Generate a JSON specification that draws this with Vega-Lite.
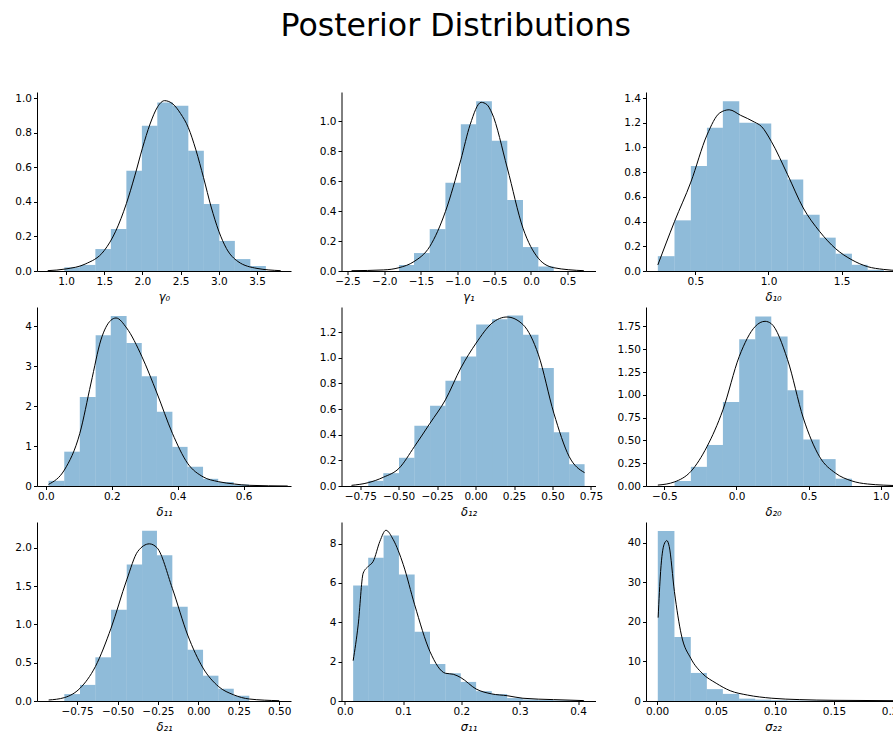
{
"$schema": "https://vega.github.io/schema/vega-lite/v6.json",
"title": {"text": "Posterior Distributions", "fontSize": 31.6, "font": "DejaVu Sans", "fontWeight": "normal", "color": "#000", "anchor": "middle", "offset": 49, "dx": -4},
"padding": {"left": 14, "top": 11, "right": 0, "bottom": 0},
"columns": 3,
"spacing": {"row": 36, "column": 50.5},
"bounds": "flush",
"datasets": {
"hist": [
{"p":"g0","x0":0.978,"x1":1.181,"h":0.021},{"p":"g0","x0":1.181,"x1":1.384,"h":0.035},{"p":"g0","x0":1.384,"x1":1.587,"h":0.127},{"p":"g0","x0":1.587,"x1":1.790,"h":0.243},{"p":"g0","x0":1.790,"x1":1.993,"h":0.579},{"p":"g0","x0":1.993,"x1":2.195,"h":0.840},{"p":"g0","x0":2.195,"x1":2.398,"h":0.975},{"p":"g0","x0":2.398,"x1":2.601,"h":0.956},{"p":"g0","x0":2.601,"x1":2.804,"h":0.695},{"p":"g0","x0":2.804,"x1":3.007,"h":0.388},{"p":"g0","x0":3.007,"x1":3.210,"h":0.174},{"p":"g0","x0":3.210,"x1":3.413,"h":0.069},{"p":"g0","x0":3.413,"x1":3.616,"h":0.029},
{"p":"g1","x0":-1.799,"x1":-1.594,"h":0.04},{"p":"g1","x0":-1.594,"x1":-1.380,"h":0.12},{"p":"g1","x0":-1.380,"x1":-1.166,"h":0.28},{"p":"g1","x0":-1.166,"x1":-0.956,"h":0.59},{"p":"g1","x0":-0.956,"x1":-0.747,"h":0.98},{"p":"g1","x0":-0.747,"x1":-0.533,"h":1.135},{"p":"g1","x0":-0.533,"x1":-0.323,"h":0.87},{"p":"g1","x0":-0.323,"x1":-0.109,"h":0.475},{"p":"g1","x0":-0.109,"x1":0.1,"h":0.16},{"p":"g1","x0":0.1,"x1":0.31,"h":0.03},
{"p":"d10","x0":0.243,"x1":0.357,"h":0.12},{"p":"d10","x0":0.357,"x1":0.469,"h":0.41},{"p":"d10","x0":0.469,"x1":0.579,"h":0.85},{"p":"d10","x0":0.579,"x1":0.688,"h":1.16},{"p":"d10","x0":0.688,"x1":0.8,"h":1.375},{"p":"d10","x0":0.8,"x1":0.91,"h":1.2},{"p":"d10","x0":0.91,"x1":1.019,"h":1.195},{"p":"d10","x0":1.019,"x1":1.131,"h":0.9},{"p":"d10","x0":1.131,"x1":1.238,"h":0.74},{"p":"d10","x0":1.238,"x1":1.35,"h":0.455},{"p":"d10","x0":1.35,"x1":1.46,"h":0.27},{"p":"d10","x0":1.46,"x1":1.571,"h":0.14},{"p":"d10","x0":1.571,"x1":1.679,"h":0.05},{"p":"d10","x0":1.679,"x1":1.79,"h":0.01},
{"p":"d11","x0":0.008,"x1":0.0557,"h":0.13},{"p":"d11","x0":0.0557,"x1":0.103,"h":0.86},{"p":"d11","x0":0.103,"x1":0.151,"h":2.23},{"p":"d11","x0":0.151,"x1":0.197,"h":3.78},{"p":"d11","x0":0.197,"x1":0.245,"h":4.26},{"p":"d11","x0":0.245,"x1":0.291,"h":3.58},{"p":"d11","x0":0.291,"x1":0.337,"h":2.75},{"p":"d11","x0":0.337,"x1":0.384,"h":1.86},{"p":"d11","x0":0.384,"x1":0.430,"h":0.98},{"p":"d11","x0":0.430,"x1":0.477,"h":0.48},{"p":"d11","x0":0.477,"x1":0.523,"h":0.18},{"p":"d11","x0":0.523,"x1":0.570,"h":0.1},{"p":"d11","x0":0.570,"x1":0.617,"h":0.04},
{"p":"d12","x0":-0.698,"x1":-0.6,"h":0.04},{"p":"d12","x0":-0.6,"x1":-0.498,"h":0.1},{"p":"d12","x0":-0.498,"x1":-0.398,"h":0.22},{"p":"d12","x0":-0.398,"x1":-0.296,"h":0.47},{"p":"d12","x0":-0.296,"x1":-0.196,"h":0.625},{"p":"d12","x0":-0.196,"x1":-0.096,"h":0.82},{"p":"d12","x0":-0.096,"x1":0.004,"h":1.01},{"p":"d12","x0":0.004,"x1":0.107,"h":1.26},{"p":"d12","x0":0.107,"x1":0.207,"h":1.3},{"p":"d12","x0":0.207,"x1":0.309,"h":1.33},{"p":"d12","x0":0.309,"x1":0.409,"h":1.18},{"p":"d12","x0":0.409,"x1":0.509,"h":0.92},{"p":"d12","x0":0.509,"x1":0.609,"h":0.42},{"p":"d12","x0":0.609,"x1":0.709,"h":0.17},
{"p":"d20","x0":-0.429,"x1":-0.316,"h":0.055},{"p":"d20","x0":-0.316,"x1":-0.205,"h":0.21},{"p":"d20","x0":-0.205,"x1":-0.094,"h":0.45},{"p":"d20","x0":-0.094,"x1":0.019,"h":0.92},{"p":"d20","x0":0.019,"x1":0.13,"h":1.61},{"p":"d20","x0":0.13,"x1":0.241,"h":1.86},{"p":"d20","x0":0.241,"x1":0.354,"h":1.64},{"p":"d20","x0":0.354,"x1":0.463,"h":1.05},{"p":"d20","x0":0.463,"x1":0.576,"h":0.51},{"p":"d20","x0":0.576,"x1":0.687,"h":0.295},{"p":"d20","x0":0.687,"x1":0.8,"h":0.08},
{"p":"d21","x0":-0.829,"x1":-0.732,"h":0.09},{"p":"d21","x0":-0.732,"x1":-0.637,"h":0.21},{"p":"d21","x0":-0.637,"x1":-0.540,"h":0.57},{"p":"d21","x0":-0.540,"x1":-0.443,"h":1.19},{"p":"d21","x0":-0.443,"x1":-0.348,"h":1.78},{"p":"d21","x0":-0.348,"x1":-0.256,"h":2.22},{"p":"d21","x0":-0.256,"x1":-0.161,"h":1.9},{"p":"d21","x0":-0.161,"x1":-0.066,"h":1.23},{"p":"d21","x0":-0.066,"x1":0.029,"h":0.67},{"p":"d21","x0":0.029,"x1":0.124,"h":0.33},{"p":"d21","x0":0.124,"x1":0.219,"h":0.16},{"p":"d21","x0":0.219,"x1":0.315,"h":0.07},
{"p":"s11","x0":0.0143,"x1":0.0401,"h":5.87},{"p":"s11","x0":0.0401,"x1":0.0665,"h":7.28},{"p":"s11","x0":0.0665,"x1":0.0928,"h":8.41},{"p":"s11","x0":0.0928,"x1":0.1198,"h":6.43},{"p":"s11","x0":0.1198,"x1":0.1461,"h":3.52},{"p":"s11","x0":0.1461,"x1":0.1725,"h":1.88},{"p":"s11","x0":0.1725,"x1":0.1989,"h":1.41},{"p":"s11","x0":0.1989,"x1":0.2252,"h":0.97},{"p":"s11","x0":0.2252,"x1":0.2521,"h":0.5},{"p":"s11","x0":0.2521,"x1":0.2785,"h":0.35},{"p":"s11","x0":0.2785,"x1":0.3054,"h":0.15},{"p":"s11","x0":0.3054,"x1":0.3318,"h":0.08},{"p":"s11","x0":0.3318,"x1":0.3582,"h":0.05},{"p":"s11","x0":0.3582,"x1":0.3845,"h":0.03},{"p":"s11","x0":0.3845,"x1":0.4109,"h":0.02},
{"p":"s22","x0":0.0006,"x1":0.0147,"h":43.0},{"p":"s22","x0":0.0147,"x1":0.0286,"h":16.2},{"p":"s22","x0":0.0286,"x1":0.0422,"h":7.1},{"p":"s22","x0":0.0422,"x1":0.0558,"h":3.0},{"p":"s22","x0":0.0558,"x1":0.0696,"h":1.8},{"p":"s22","x0":0.0696,"x1":0.0832,"h":0.6},{"p":"s22","x0":0.0832,"x1":0.0968,"h":0.35},{"p":"s22","x0":0.0968,"x1":0.1106,"h":0.2},{"p":"s22","x0":0.1106,"x1":0.1242,"h":0.12},{"p":"s22","x0":0.1242,"x1":0.1378,"h":0.1},{"p":"s22","x0":0.1378,"x1":0.1513,"h":0.08},{"p":"s22","x0":0.1513,"x1":0.1652,"h":0.05},{"p":"s22","x0":0.1652,"x1":0.1788,"h":0.03},{"p":"s22","x0":0.1788,"x1":0.1923,"h":0.02}
],
"kde": [
{"p":"g0","x":0.76,"d":0.002},{"p":"g0","x":1.0,"d":0.012},{"p":"g0","x":1.25,"d":0.04},{"p":"g0","x":1.5,"d":0.118},{"p":"g0","x":1.65,"d":0.23},{"p":"g0","x":1.79,"d":0.39},{"p":"g0","x":1.9,"d":0.55},{"p":"g0","x":2.0,"d":0.71},{"p":"g0","x":2.1,"d":0.85},{"p":"g0","x":2.2,"d":0.95},{"p":"g0","x":2.29,"d":0.985},{"p":"g0","x":2.4,"d":0.965},{"p":"g0","x":2.5,"d":0.91},{"p":"g0","x":2.6,"d":0.83},{"p":"g0","x":2.7,"d":0.7},{"p":"g0","x":2.8,"d":0.54},{"p":"g0","x":2.9,"d":0.37},{"p":"g0","x":3.0,"d":0.23},{"p":"g0","x":3.1,"d":0.13},{"p":"g0","x":3.25,"d":0.055},{"p":"g0","x":3.5,"d":0.015},{"p":"g0","x":3.81,"d":0.002},
{"p":"g1","x":-2.445,"d":0.002},{"p":"g1","x":-2.013,"d":0.007},{"p":"g1","x":-1.799,"d":0.022},{"p":"g1","x":-1.594,"d":0.063},{"p":"g1","x":-1.38,"d":0.163},{"p":"g1","x":-1.166,"d":0.397},{"p":"g1","x":-0.956,"d":0.743},{"p":"g1","x":-0.829,"d":0.978},{"p":"g1","x":-0.679,"d":1.127},{"p":"g1","x":-0.601,"d":1.112},{"p":"g1","x":-0.533,"d":1.056},{"p":"g1","x":-0.323,"d":0.688},{"p":"g1","x":-0.109,"d":0.286},{"p":"g1","x":0.1,"d":0.085},{"p":"g1","x":0.31,"d":0.022},{"p":"g1","x":0.72,"d":0.002},
{"p":"d10","x":0.243,"d":0.049},{"p":"d10","x":0.357,"d":0.4},{"p":"d10","x":0.469,"d":0.72},{"p":"d10","x":0.579,"d":1.1},{"p":"d10","x":0.667,"d":1.28},{"p":"d10","x":0.731,"d":1.305},{"p":"d10","x":0.81,"d":1.26},{"p":"d10","x":0.905,"d":1.205},{"p":"d10","x":0.952,"d":1.17},{"p":"d10","x":1.019,"d":1.05},{"p":"d10","x":1.131,"d":0.78},{"p":"d10","x":1.238,"d":0.51},{"p":"d10","x":1.35,"d":0.32},{"p":"d10","x":1.46,"d":0.18},{"p":"d10","x":1.571,"d":0.09},{"p":"d10","x":1.679,"d":0.035},{"p":"d10","x":1.786,"d":0.013},{"p":"d10","x":1.893,"d":0.003},
{"p":"d11","x":0.008,"d":0.04},{"p":"d11","x":0.056,"d":0.4},{"p":"d11","x":0.103,"d":1.32},{"p":"d11","x":0.137,"d":2.58},{"p":"d11","x":0.167,"d":3.66},{"p":"d11","x":0.197,"d":4.15},{"p":"d11","x":0.213,"d":4.21},{"p":"d11","x":0.245,"d":3.96},{"p":"d11","x":0.291,"d":3.25},{"p":"d11","x":0.337,"d":2.33},{"p":"d11","x":0.384,"d":1.32},{"p":"d11","x":0.43,"d":0.57},{"p":"d11","x":0.477,"d":0.23},{"p":"d11","x":0.523,"d":0.11},{"p":"d11","x":0.572,"d":0.05},{"p":"d11","x":0.617,"d":0.017},{"p":"d11","x":0.734,"d":0.0},
{"p":"d12","x":-0.807,"d":0.005},{"p":"d12","x":-0.698,"d":0.026},{"p":"d12","x":-0.6,"d":0.068},{"p":"d12","x":-0.498,"d":0.138},{"p":"d12","x":-0.398,"d":0.307},{"p":"d12","x":-0.296,"d":0.49},{"p":"d12","x":-0.196,"d":0.672},{"p":"d12","x":-0.096,"d":0.92},{"p":"d12","x":0.004,"d":1.115},{"p":"d12","x":0.107,"d":1.27},{"p":"d12","x":0.204,"d":1.318},{"p":"d12","x":0.309,"d":1.258},{"p":"d12","x":0.409,"d":1.023},{"p":"d12","x":0.509,"d":0.568},{"p":"d12","x":0.609,"d":0.229},{"p":"d12","x":0.709,"d":0.104},
{"p":"d20","x":-0.545,"d":0.01},{"p":"d20","x":-0.429,"d":0.045},{"p":"d20","x":-0.316,"d":0.16},{"p":"d20","x":-0.205,"d":0.43},{"p":"d20","x":-0.094,"d":0.835},{"p":"d20","x":0.019,"d":1.42},{"p":"d20","x":0.13,"d":1.75},{"p":"d20","x":0.198,"d":1.806},{"p":"d20","x":0.241,"d":1.78},{"p":"d20","x":0.354,"d":1.385},{"p":"d20","x":0.463,"d":0.745},{"p":"d20","x":0.576,"d":0.32},{"p":"d20","x":0.687,"d":0.14},{"p":"d20","x":0.8,"d":0.055},{"p":"d20","x":0.908,"d":0.022},{"p":"d20","x":1.125,"d":0.004},
{"p":"d21","x":-0.926,"d":0.013},{"p":"d21","x":-0.829,"d":0.044},{"p":"d21","x":-0.732,"d":0.166},{"p":"d21","x":-0.637,"d":0.449},{"p":"d21","x":-0.54,"d":0.95},{"p":"d21","x":-0.443,"d":1.58},{"p":"d21","x":-0.375,"d":1.95},{"p":"d21","x":-0.303,"d":2.05},{"p":"d21","x":-0.256,"d":2.0},{"p":"d21","x":-0.161,"d":1.47},{"p":"d21","x":-0.066,"d":0.86},{"p":"d21","x":0.029,"d":0.43},{"p":"d21","x":0.124,"d":0.19},{"p":"d21","x":0.219,"d":0.08},{"p":"d21","x":0.315,"d":0.026},{"p":"d21","x":0.5,"d":0.004},
{"p":"s11","x":0.0143,"d":2.05},{"p":"s11","x":0.0229,"d":3.87},{"p":"s11","x":0.0315,"d":6.5},{"p":"s11","x":0.0401,"d":6.84},{"p":"s11","x":0.0487,"d":7.1},{"p":"s11","x":0.0602,"d":8.12},{"p":"s11","x":0.0705,"d":8.68},{"p":"s11","x":0.0831,"d":8.2},{"p":"s11","x":0.1003,"d":6.93},{"p":"s11","x":0.1198,"d":4.89},{"p":"s11","x":0.1461,"d":2.51},{"p":"s11","x":0.1725,"d":1.41},{"p":"s11","x":0.186,"d":1.36},{"p":"s11","x":0.1989,"d":1.19},{"p":"s11","x":0.2252,"d":0.61},{"p":"s11","x":0.2521,"d":0.36},{"p":"s11","x":0.2785,"d":0.27},{"p":"s11","x":0.3054,"d":0.14},{"p":"s11","x":0.358,"d":0.07},{"p":"s11","x":0.41,"d":0.02},
{"p":"s22","x":0.0009,"d":21.1},{"p":"s22","x":0.003,"d":32.8},{"p":"s22","x":0.0059,"d":39.6},{"p":"s22","x":0.0083,"d":40.6},{"p":"s22","x":0.0103,"d":39.1},{"p":"s22","x":0.0147,"d":27.7},{"p":"s22","x":0.0206,"d":16.7},{"p":"s22","x":0.0286,"d":10.8},{"p":"s22","x":0.0383,"d":7.0},{"p":"s22","x":0.0501,"d":4.5},{"p":"s22","x":0.062,"d":2.6},{"p":"s22","x":0.0767,"d":1.5},{"p":"s22","x":0.0973,"d":0.7},{"p":"s22","x":0.121,"d":0.35},{"p":"s22","x":0.15,"d":0.17},{"p":"s22","x":0.205,"d":0.08}
]
},
"concat": [
{"width":254,"height":179,"layer":[
{"data":{"name":"hist"},"transform":[{"filter":"datum.p==='g0'"}],"mark":{"type":"rect","color":"#1f77b4","opacity":0.5},"encoding":{"x":{"field":"x0","type":"quantitative","title":"γ₀","scale":{"domain":[0.62,3.945],"nice":false,"zero":false},"axis":{"values":[1,1.5,2,2.5,3,3.5],"format":".1f","labelOverlap":false}},"x2":{"field":"x1"},"y":{"field":"h","type":"quantitative","title":null,"scale":{"domain":[0,1.035],"nice":false},"axis":{"values":[0,0.2,0.4,0.6,0.8,1.0],"format":".1f","labelOverlap":false}},"y2":{"datum":0}}},
{"data":{"name":"kde"},"transform":[{"filter":"datum.p==='g0'"}],"mark":{"type":"line","color":"#000","strokeWidth":1,"interpolate":"monotone","clip":true},"encoding":{"x":{"field":"x","type":"quantitative","title":"γ₀","axis":{"values":[1,1.5,2,2.5,3,3.5],"format":".1f","labelOverlap":false}},"y":{"field":"d","type":"quantitative","title":null,"axis":{"values":[0,0.2,0.4,0.6,0.8,1.0],"format":".1f","labelOverlap":false}}}}
]},
{"width":254,"height":179,"layer":[
{"data":{"name":"hist"},"transform":[{"filter":"datum.p==='g1'"}],"mark":{"type":"rect","color":"#1f77b4","opacity":0.5},"encoding":{"x":{"field":"x0","type":"quantitative","title":"γ₁","scale":{"domain":[-2.582,0.879],"nice":false,"zero":false},"axis":{"values":[-2.5,-2,-1.5,-1,-0.5,0,0.5],"format":".1f","labelOverlap":false}},"x2":{"field":"x1"},"y":{"field":"h","type":"quantitative","title":null,"scale":{"domain":[0,1.196],"nice":false},"axis":{"values":[0,0.2,0.4,0.6,0.8,1.0],"format":".1f","labelOverlap":false}},"y2":{"datum":0}}},
{"data":{"name":"kde"},"transform":[{"filter":"datum.p==='g1'"}],"mark":{"type":"line","color":"#000","strokeWidth":1,"interpolate":"monotone","clip":true},"encoding":{"x":{"field":"x","type":"quantitative","title":"γ₁","axis":{"values":[-2.5,-2,-1.5,-1,-0.5,0,0.5],"format":".1f","labelOverlap":false}},"y":{"field":"d","type":"quantitative","title":null,"axis":{"values":[0,0.2,0.4,0.6,0.8,1.0],"format":".1f","labelOverlap":false}}}}
]},
{"width":254,"height":179,"layer":[
{"data":{"name":"hist"},"transform":[{"filter":"datum.p==='d10'"}],"mark":{"type":"rect","color":"#1f77b4","opacity":0.5},"encoding":{"x":{"field":"x0","type":"quantitative","title":"δ₁₀","scale":{"domain":[0.162,1.9],"nice":false,"zero":false},"axis":{"values":[0.5,1,1.5],"format":".1f","labelOverlap":false}},"x2":{"field":"x1"},"y":{"field":"h","type":"quantitative","title":null,"scale":{"domain":[0,1.449],"nice":false},"axis":{"values":[0,0.2,0.4,0.6,0.8,1.0,1.2,1.4],"format":".1f","labelOverlap":false}},"y2":{"datum":0}}},
{"data":{"name":"kde"},"transform":[{"filter":"datum.p==='d10'"}],"mark":{"type":"line","color":"#000","strokeWidth":1,"interpolate":"monotone","clip":true},"encoding":{"x":{"field":"x","type":"quantitative","title":"δ₁₀","axis":{"values":[0.5,1,1.5],"format":".1f","labelOverlap":false}},"y":{"field":"d","type":"quantitative","title":null,"axis":{"values":[0,0.2,0.4,0.6,0.8,1.0,1.2,1.4],"format":".1f","labelOverlap":false}}}}
]},
{"width":254,"height":179,"layer":[
{"data":{"name":"hist"},"transform":[{"filter":"datum.p==='d11'"}],"mark":{"type":"rect","color":"#1f77b4","opacity":0.5},"encoding":{"x":{"field":"x0","type":"quantitative","title":"δ₁₁","scale":{"domain":[-0.027,0.744],"nice":false,"zero":false},"axis":{"values":[0,0.2,0.4,0.6],"format":".1f","labelOverlap":false}},"x2":{"field":"x1"},"y":{"field":"h","type":"quantitative","title":null,"scale":{"domain":[0,4.485],"nice":false},"axis":{"values":[0,1,2,3,4],"format":"d","labelOverlap":false}},"y2":{"datum":0}}},
{"data":{"name":"kde"},"transform":[{"filter":"datum.p==='d11'"}],"mark":{"type":"line","color":"#000","strokeWidth":1,"interpolate":"monotone","clip":true},"encoding":{"x":{"field":"x","type":"quantitative","title":"δ₁₁","axis":{"values":[0,0.2,0.4,0.6],"format":".1f","labelOverlap":false}},"y":{"field":"d","type":"quantitative","title":null,"axis":{"values":[0,1,2,3,4],"format":"d","labelOverlap":false}}}}
]},
{"width":254,"height":179,"layer":[
{"data":{"name":"hist"},"transform":[{"filter":"datum.p==='d12'"}],"mark":{"type":"rect","color":"#1f77b4","opacity":0.5},"encoding":{"x":{"field":"x0","type":"quantitative","title":"δ₁₂","scale":{"domain":[-0.872,0.78],"nice":false,"zero":false},"axis":{"values":[-0.75,-0.5,-0.25,0,0.25,0.5,0.75],"format":".2f","labelOverlap":false}},"x2":{"field":"x1"},"y":{"field":"h","type":"quantitative","title":null,"scale":{"domain":[0,1.396],"nice":false},"axis":{"values":[0,0.2,0.4,0.6,0.8,1.0,1.2],"format":".1f","labelOverlap":false}},"y2":{"datum":0}}},
{"data":{"name":"kde"},"transform":[{"filter":"datum.p==='d12'"}],"mark":{"type":"line","color":"#000","strokeWidth":1,"interpolate":"monotone","clip":true},"encoding":{"x":{"field":"x","type":"quantitative","title":"δ₁₂","axis":{"values":[-0.75,-0.5,-0.25,0,0.25,0.5,0.75],"format":".2f","labelOverlap":false}},"y":{"field":"d","type":"quantitative","title":null,"axis":{"values":[0,0.2,0.4,0.6,0.8,1.0,1.2],"format":".1f","labelOverlap":false}}}}
]},
{"width":254,"height":179,"layer":[
{"data":{"name":"hist"},"transform":[{"filter":"datum.p==='d20'"}],"mark":{"type":"rect","color":"#1f77b4","opacity":0.5},"encoding":{"x":{"field":"x0","type":"quantitative","title":"δ₂₀","scale":{"domain":[-0.627,1.133],"nice":false,"zero":false},"axis":{"values":[-0.5,0,0.5,1],"format":".1f","labelOverlap":false}},"x2":{"field":"x1"},"y":{"field":"h","type":"quantitative","title":null,"scale":{"domain":[0,1.963],"nice":false},"axis":{"values":[0,0.25,0.5,0.75,1,1.25,1.5,1.75],"format":".2f","labelOverlap":false}},"y2":{"datum":0}}},
{"data":{"name":"kde"},"transform":[{"filter":"datum.p==='d20'"}],"mark":{"type":"line","color":"#000","strokeWidth":1,"interpolate":"monotone","clip":true},"encoding":{"x":{"field":"x","type":"quantitative","title":"δ₂₀","axis":{"values":[-0.5,0,0.5,1],"format":".1f","labelOverlap":false}},"y":{"field":"d","type":"quantitative","title":null,"axis":{"values":[0,0.25,0.5,0.75,1,1.25,1.5,1.75],"format":".2f","labelOverlap":false}}}}
]},
{"width":254,"height":179,"layer":[
{"data":{"name":"hist"},"transform":[{"filter":"datum.p==='d21'"}],"mark":{"type":"rect","color":"#1f77b4","opacity":0.5},"encoding":{"x":{"field":"x0","type":"quantitative","title":"δ₂₁","scale":{"domain":[-0.998,0.573],"nice":false,"zero":false},"axis":{"values":[-0.75,-0.5,-0.25,0,0.25,0.5],"format":".2f","labelOverlap":false}},"x2":{"field":"x1"},"y":{"field":"h","type":"quantitative","title":null,"scale":{"domain":[0,2.335],"nice":false},"axis":{"values":[0,0.5,1,1.5,2],"format":".1f","labelOverlap":false}},"y2":{"datum":0}}},
{"data":{"name":"kde"},"transform":[{"filter":"datum.p==='d21'"}],"mark":{"type":"line","color":"#000","strokeWidth":1,"interpolate":"monotone","clip":true},"encoding":{"x":{"field":"x","type":"quantitative","title":"δ₂₁","axis":{"values":[-0.75,-0.5,-0.25,0,0.25,0.5],"format":".2f","labelOverlap":false}},"y":{"field":"d","type":"quantitative","title":null,"axis":{"values":[0,0.5,1,1.5,2],"format":".1f","labelOverlap":false}}}}
]},
{"width":254,"height":179,"layer":[
{"data":{"name":"hist"},"transform":[{"filter":"datum.p==='s11'"}],"mark":{"type":"rect","color":"#1f77b4","opacity":0.5},"encoding":{"x":{"field":"x0","type":"quantitative","title":"σ₁₁","scale":{"domain":[-0.0057,0.43],"nice":false,"zero":false},"axis":{"values":[0,0.1,0.2,0.3,0.4],"format":".1f","labelOverlap":false}},"x2":{"field":"x1"},"y":{"field":"h","type":"quantitative","title":null,"scale":{"domain":[0,9.1],"nice":false},"axis":{"values":[0,2,4,6,8],"format":"d","labelOverlap":false}},"y2":{"datum":0}}},
{"data":{"name":"kde"},"transform":[{"filter":"datum.p==='s11'"}],"mark":{"type":"line","color":"#000","strokeWidth":1,"interpolate":"monotone","clip":true},"encoding":{"x":{"field":"x","type":"quantitative","title":"σ₁₁","axis":{"values":[0,0.1,0.2,0.3,0.4],"format":".1f","labelOverlap":false}},"y":{"field":"d","type":"quantitative","title":null,"axis":{"values":[0,2,4,6,8],"format":"d","labelOverlap":false}}}}
]},
{"width":254,"height":179,"layer":[
{"data":{"name":"hist"},"transform":[{"filter":"datum.p==='s22'"}],"mark":{"type":"rect","color":"#1f77b4","opacity":0.5},"encoding":{"x":{"field":"x0","type":"quantitative","title":"σ₂₂","scale":{"domain":[-0.0094,0.206],"nice":false,"zero":false},"axis":{"values":[0,0.05,0.1,0.15,0.2],"format":".2f","labelOverlap":false}},"x2":{"field":"x1"},"y":{"field":"h","type":"quantitative","title":null,"scale":{"domain":[0,45.3],"nice":false},"axis":{"values":[0,10,20,30,40],"format":"d","labelOverlap":false}},"y2":{"datum":0}}},
{"data":{"name":"kde"},"transform":[{"filter":"datum.p==='s22'"}],"mark":{"type":"line","color":"#000","strokeWidth":1,"interpolate":"monotone","clip":true},"encoding":{"x":{"field":"x","type":"quantitative","title":"σ₂₂","axis":{"values":[0,0.05,0.1,0.15,0.2],"format":".2f","labelOverlap":false}},"y":{"field":"d","type":"quantitative","title":null,"axis":{"values":[0,10,20,30,40],"format":"d","labelOverlap":false}}}}
]}
],
"config": {
"font": "DejaVu Sans",
"view": {"stroke": null},
"axis": {"grid": false, "domainColor": "#000", "domainWidth": 1, "tickColor": "#000", "tickWidth": 1, "tickSize": 3.5, "labelFont": "DejaVu Sans", "labelFontSize": 10.5, "labelColor": "#000", "labelPadding": 2, "labelFlush": false, "labelOverlap": false, "titleFont": "DejaVu Sans", "titleFontSize": 11.5, "titleFontWeight": "normal", "titleFontStyle": "italic", "titleColor": "#000", "titlePadding": 4}
}
}
